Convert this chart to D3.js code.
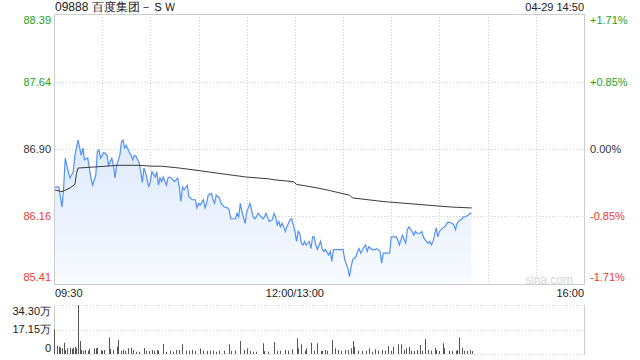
<!DOCTYPE html>
<html>
<head>
<meta charset="utf-8">
<script src="https://cdn.jsdelivr.net/npm/d3@7"></script>
<style>
  html, body { margin: 0; padding: 0; background: #fff; }
  svg { display: block; font-family: "Liberation Sans", Arial, sans-serif; }
</style>
</head>
<body>
<svg id="chart" width="640" height="360"></svg>
<script>
// Stock header
var stockTitle = "09888 百度集团－ＳＷ";
var stockTime = "04-29 14:50";
var prevClose = 86.90;

// Price axis ticks (left) and percent labels (right)
var priceTicks = [88.39, 87.64, 86.90, 86.16, 85.41];
var pctLabels = ["+1.71%", "+0.85%", "0.00%", "-0.85%", "-1.71%"];
var timeLabels = ["09:30", "12:00/13:00", "16:00"];
var timeLabelMinutes = [0, 150, 330];
var volTicks = [34.30, 17.15, 0];
var volTickLabels = ["34.30万", "17.15万", "0"];

// Minute line, trading minutes since 09:30 (lunch break removed)
var priceMinutes = [0, 3, 5, 6, 7, 9, 10, 12, 13, 15, 16, 17, 18, 19, 21, 22, 23, 24, 26, 27,
  28, 29, 31, 32, 33, 34, 36, 37, 38, 39, 41, 42, 43, 44, 45, 47, 48, 49, 50, 51,
  53, 54, 55, 56, 57, 59, 60, 61, 63, 64, 65, 66, 67, 68, 70, 71, 72, 73, 75, 76,
  77, 78, 79, 80, 81, 83, 84, 85, 86, 88, 89, 90, 91, 93, 94, 95, 96, 98, 99, 100,
  101, 103, 104, 105, 106, 108, 109, 110, 111, 113, 114, 115, 116, 117, 119, 120, 121, 122, 124, 125,
  126, 127, 129, 130, 131, 132, 134, 136, 137, 138, 139, 140, 141, 142, 143, 144, 145, 146, 147, 148,
  149, 150, 151, 152, 153, 154, 155, 156, 157, 159, 160, 161, 162, 163, 164, 166, 167, 168, 169, 171,
  172, 173, 174, 175, 176, 178, 179, 180, 181, 183, 184, 185, 186, 188, 189, 190, 191, 193, 194, 195,
  196, 198, 199, 200, 201, 203, 204, 205, 207, 208, 209, 210, 212, 213, 214, 215, 217, 218, 219, 220,
  221, 223, 224, 225, 226, 228, 229, 230, 231, 233, 234, 235, 236, 238, 239, 240, 241, 243, 244, 245,
  246, 248, 249, 250, 251, 253, 254, 255, 256, 258, 259, 260];
var prices = [86.48, 86.48, 86.26, 86.47, 86.80, 86.64, 86.58, 86.65, 86.83, 87.00, 86.91, 86.83, 86.91, 86.78, 86.80, 86.69, 86.58, 86.50, 86.61, 86.87,
  86.89, 86.80, 86.86, 86.85, 86.83, 86.72, 86.80, 86.72, 86.58, 86.72, 86.83, 86.98, 87.00, 86.91, 86.94, 86.86, 86.83, 86.78, 86.83, 86.82,
  86.75, 86.65, 86.53, 86.69, 86.64, 86.48, 86.54, 86.65, 86.59, 86.65, 86.50, 86.58, 86.54, 86.59, 86.50, 86.58, 86.59, 86.58, 86.54, 86.56,
  86.58, 86.48, 86.32, 86.48, 86.45, 86.50, 86.37, 86.36, 86.34, 86.34, 86.25, 86.30, 86.28, 86.34, 86.25, 86.30, 86.39, 86.41, 86.34, 86.30,
  86.39, 86.36, 86.30, 86.28, 86.26, 86.25, 86.23, 86.13, 86.13, 86.13, 86.19, 86.15, 86.30, 86.21, 86.08, 86.21, 86.25, 86.30, 86.15, 86.13,
  86.15, 86.19, 86.15, 86.13, 86.15, 86.19, 86.10, 86.12, 86.19, 86.15, 86.06, 86.10, 86.04, 86.08, 86.04, 85.99, 86.04, 86.08, 86.12, 86.13,
  86.06, 85.99, 85.88, 85.99, 85.97, 85.86, 85.84, 85.88, 85.84, 85.88, 85.80, 85.93, 85.93, 85.84, 85.79, 85.88, 85.80, 85.77, 85.79, 85.73,
  85.77, 85.66, 85.79, 85.79, 85.79, 85.79, 85.79, 85.79, 85.68, 85.58, 85.49, 85.60, 85.68, 85.71, 85.77, 85.80, 85.75, 85.82, 85.84, 85.77,
  85.82, 85.79, 85.79, 85.79, 85.80, 85.77, 85.64, 85.75, 85.75, 85.75, 85.75, 85.93, 85.93, 85.93, 85.90, 85.84, 85.95, 85.90, 85.86, 86.01,
  86.04, 85.99, 85.95, 85.99, 85.97, 85.97, 85.99, 85.93, 85.90, 85.86, 85.88, 85.84, 85.88, 86.03, 85.93, 85.99, 86.01, 86.04, 86.06, 86.09,
  86.09, 86.08, 86.06, 86.01, 86.08, 86.12, 86.13, 86.15, 86.15, 86.17, 86.19, 86.19];

// Average price line
var avgMinutes = [0, 5, 10, 13, 14, 15, 24, 40, 53, 61, 67, 78, 91, 103, 120, 134, 137, 149, 151, 164,
  172, 184, 186, 205, 226, 247, 259, 260];
var avgPrices = [86.45, 86.43, 86.47, 86.51, 86.63, 86.69, 86.70, 86.72, 86.72, 86.71, 86.71, 86.69, 86.66, 86.63, 86.59, 86.57, 86.56, 86.54, 86.51, 86.47,
  86.44, 86.39, 86.36, 86.32, 86.29, 86.26, 86.25, 86.25];

// Volume bars (万股)
var volMinutes = [0, 2, 3, 4, 5, 6, 7, 8, 10, 11, 12, 13, 14, 15, 16, 17, 18, 19, 21, 22,
  25, 26, 27, 29, 30, 31, 34, 35, 37, 39, 40, 42, 43, 44, 46, 48, 49, 51, 53, 56,
  57, 59, 61, 62, 64, 65, 68, 70, 72, 74, 76, 78, 80, 82, 84, 86, 88, 91, 93, 95,
  97, 99, 101, 103, 106, 109, 110, 113, 116, 118, 120, 122, 124, 126, 130, 131, 133, 137, 139, 141,
  144, 146, 148, 151, 152, 154, 156, 157, 160, 162, 164, 166, 167, 169, 170, 173, 175, 177, 179, 181,
  183, 185, 186, 187, 189, 192, 194, 196, 198, 200, 202, 204, 206, 208, 210, 211, 214, 216, 218, 219,
  221, 222, 224, 226, 228, 229, 231, 233, 235, 237, 238, 240, 242, 243, 246, 248, 250, 251, 252, 254,
  255, 257, 259, 260];
var volumes = [17.3, 5.6, 5.1, 4.4, 4.0, 7.9, 2.8, 4.0, 4.4, 3.7, 4.4, 5.1, 4.0, 34.3, 9.1, 2.8, 2.3, 2.8, 2.3, 3.7,
  4.0, 4.0, 4.4, 2.8, 2.1, 2.8, 11.7, 3.5, 2.8, 5.1, 9.8, 2.3, 2.8, 2.1, 4.0, 4.4, 2.8, 1.6, 1.6, 4.2,
  2.3, 2.1, 2.8, 2.3, 2.8, 2.3, 7.0, 1.6, 2.3, 1.6, 2.8, 2.8, 6.8, 2.3, 2.3, 2.8, 2.1, 4.0, 2.3, 2.1,
  2.3, 2.3, 1.6, 2.3, 2.3, 6.8, 2.1, 2.3, 9.1, 2.8, 4.0, 2.1, 1.6, 1.6, 7.5, 2.1, 1.6, 8.4, 2.1, 2.3,
  2.8, 2.3, 3.3, 11.0, 4.0, 6.8, 2.3, 4.0, 7.9, 2.3, 7.5, 2.3, 2.1, 2.8, 2.3, 9.8, 4.0, 2.8, 2.3, 2.8,
  2.8, 4.0, 9.1, 5.1, 2.3, 2.1, 2.3, 4.0, 1.6, 3.3, 2.3, 2.8, 2.3, 5.6, 2.3, 5.1, 6.8, 6.8, 2.8, 4.0,
  5.1, 2.3, 2.1, 2.8, 6.3, 2.3, 10.5, 2.8, 2.3, 4.4, 2.8, 2.1, 7.5, 4.0, 2.3, 2.1, 2.3, 2.8, 11.7, 4.4,
  2.3, 2.1, 2.8, 2.1];

// Colors
var upColor = "#22a322";
var downColor = "#f03a2e";
var flatColor = "#333";
var gridColor = "#cfcfcf";
var borderColor = "#cdcdcd";
var lineColor = "#5291f5";

var svg = d3.select("#chart");

// Layout
var left = 54, right = 584;
var priceTop = 14, priceBottom = 284;
var volTop = 305, volBottom = 354;

var x = d3.scaleLinear().domain([0, 330]).range([left, right]);
var y = d3.scaleLinear().domain([85.41, 88.39]).range([priceBottom, priceTop]);
var yVol = d3.scaleLinear().domain([0, 34.30]).range([volBottom, volTop]);

var colorFor = function(p) {
  if (Math.abs(p - prevClose) < 0.005) return flatColor;
  return p > prevClose ? upColor : downColor;
};

// Header
svg.append("text")
    .attr("x", 55).attr("y", 11)
    .attr("font-size", 12).attr("fill", "#222")
    .text(stockTitle);
svg.append("text")
    .attr("x", right).attr("y", 11)
    .attr("text-anchor", "end")
    .attr("font-size", 11).attr("fill", "#222")
    .text(stockTime);

// Price panel grid
var grid = svg.append("g");
grid.selectAll(".hgrid")
    .data(priceTicks.slice(1, -1))
  .enter().append("line")
    .attr("x1", left).attr("x2", right)
    .attr("y1", function(d) { return Math.round(y(d)) + 0.5; })
    .attr("y2", function(d) { return Math.round(y(d)) + 0.5; })
    .attr("stroke", gridColor)
    .attr("stroke-dasharray", "1,2");
grid.selectAll(".vgrid")
    .data(d3.range(30, 330, 30))
  .enter().append("line")
    .attr("x1", function(d) { return Math.round(x(d)) + 0.5; })
    .attr("x2", function(d) { return Math.round(x(d)) + 0.5; })
    .attr("y1", priceTop).attr("y2", priceBottom)
    .attr("stroke", gridColor)
    .attr("stroke-dasharray", "1,2");

// sina watermark
svg.append("text")
    .attr("x", 573).attr("y", 284)
    .attr("text-anchor", "end")
    .attr("font-size", 12).attr("fill", "#d6d6d6")
    .text("sina.com");

// Area gradient
var defs = svg.append("defs");
var grad = defs.append("linearGradient")
    .attr("id", "areaGrad")
    .attr("gradientUnits", "userSpaceOnUse")
    .attr("x1", 0).attr("x2", 0)
    .attr("y1", 140).attr("y2", priceBottom);
grad.append("stop").attr("offset", "0%").attr("stop-color", "#dde9fc");
grad.append("stop").attr("offset", "100%").attr("stop-color", "#f8fbff");

var priceData = priceMinutes.map(function(m, i) { return [m, prices[i]]; });
var avgData = avgMinutes.map(function(m, i) { return [m, avgPrices[i]]; });

var area = d3.area()
    .x(function(d) { return x(d[0]); })
    .y0(priceBottom)
    .y1(function(d) { return y(d[1]); });
svg.append("path")
    .datum(priceData)
    .attr("d", area)
    .attr("fill", "url(#areaGrad)");

var line = d3.line()
    .x(function(d) { return x(d[0]); })
    .y(function(d) { return y(d[1]); });
svg.append("path")
    .datum(priceData)
    .attr("d", line)
    .attr("fill", "none")
    .attr("stroke", lineColor)
    .attr("stroke-width", 1.2);
svg.append("path")
    .datum(avgData)
    .attr("d", line)
    .attr("fill", "none")
    .attr("stroke", "#3a3a3a")
    .attr("stroke-width", 1);

// Price panel border
svg.append("rect")
    .attr("x", left + 0.5).attr("y", priceTop + 0.5)
    .attr("width", right - left).attr("height", priceBottom - priceTop)
    .attr("fill", "none")
    .attr("stroke", borderColor);

// Left price labels
var labelY = function(v, i, n) {
  var py = y(v);
  if (i === 0) return py + 6;
  if (i === n - 1) return py - 7;
  return py;
};
svg.selectAll(".plabel")
    .data(priceTicks)
  .enter().append("text")
    .attr("x", 51)
    .attr("y", function(d, i) { return labelY(d, i, priceTicks.length); })
    .attr("dy", "0.35em")
    .attr("text-anchor", "end")
    .attr("font-size", 11)
    .attr("fill", function(d) { return colorFor(d); })
    .text(function(d) { return d.toFixed(2); });

// Right percent labels
svg.selectAll(".pctlabel")
    .data(pctLabels)
  .enter().append("text")
    .attr("x", 590)
    .attr("y", function(d, i) { return labelY(priceTicks[i], i, priceTicks.length); })
    .attr("dy", "0.35em")
    .attr("font-size", 11)
    .attr("fill", function(d, i) { return colorFor(priceTicks[i]); })
    .text(function(d) { return d; });

// Time labels
svg.selectAll(".tlabel")
    .data(timeLabels)
  .enter().append("text")
    .attr("x", function(d, i) { return x(timeLabelMinutes[i]) + (i === 0 ? 1 : 0); })
    .attr("y", 293)
    .attr("dy", "0.35em")
    .attr("text-anchor", function(d, i) { return i === 0 ? "start" : (i === timeLabels.length - 1 ? "end" : "middle"); })
    .attr("font-size", 11)
    .attr("fill", "#222")
    .text(function(d) { return d; });

// Volume panel
svg.selectAll(".vgridh")
    .data(volTicks)
  .enter().append("line")
    .attr("x1", left).attr("x2", right)
    .attr("y1", function(d) { return Math.round(yVol(d)) + 0.5; })
    .attr("y2", function(d) { return Math.round(yVol(d)) + 0.5; })
    .attr("stroke", gridColor)
    .attr("stroke-dasharray", "1,2");
svg.append("line")
    .attr("x1", left + 0.5).attr("x2", left + 0.5)
    .attr("y1", volTop).attr("y2", volBottom + 1)
    .attr("stroke", borderColor);
svg.append("line")
    .attr("x1", right + 0.5).attr("x2", right + 0.5)
    .attr("y1", volTop).attr("y2", volBottom + 1)
    .attr("stroke", borderColor);

svg.selectAll(".vbar")
    .data(volumes)
  .enter().append("rect")
    .attr("x", function(d, i) { return Math.round(x(volMinutes[i])); })
    .attr("y", function(d) { return yVol(d); })
    .attr("width", 1)
    .attr("height", function(d) { return volBottom - yVol(d); })
    .attr("fill", "#555");

svg.selectAll(".vlabel")
    .data(volTickLabels)
  .enter().append("text")
    .attr("x", 51)
    .attr("y", function(d, i) {
      var py = yVol(volTicks[i]);
      if (i === 0) return py + 6;
      if (i === volTicks.length - 1) return py - 6;
      return py;
    })
    .attr("dy", "0.35em")
    .attr("text-anchor", "end")
    .attr("font-size", 11)
    .attr("fill", "#222")
    .text(function(d) { return d; });
</script>
</body>
</html>
